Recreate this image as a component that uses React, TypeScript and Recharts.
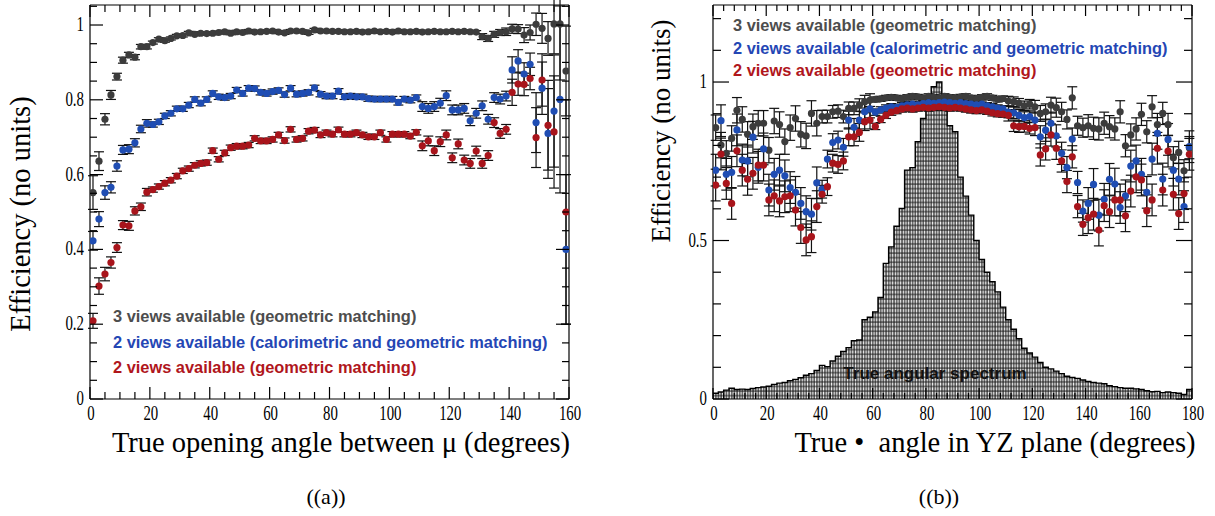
import { Area, ComposedChart, ErrorBar, ReferenceLine, Scatter, XAxis, YAxis } from 'recharts'

const SERIF = '"Liberation Serif", "Times New Roman", serif'
const SANS = '"Liberation Sans", Arial, sans-serif'

const GRAY = '#3c3c3c'
const BLUE = '#1f4db3'
const RED = '#a8141b'

// (a) true opening angle, 2 degree bins centred at 1, 3, ... 159
const A_BIN = 2
const A_GRAY = [
  0.552, 0.636, 0.748, 0.813, 0.862, 0.906, 0.920, 0.914, 0.942, 0.942,
  0.953, 0.962, 0.958, 0.964, 0.971, 0.972, 0.979, 0.975, 0.978, 0.977,
  0.978, 0.980, 0.982, 0.978, 0.982, 0.980, 0.984, 0.981, 0.982, 0.983,
  0.984, 0.981, 0.979, 0.984, 0.984, 0.983, 0.979, 0.987, 0.984, 0.984,
  0.983, 0.983, 0.982, 0.982, 0.983, 0.981, 0.982, 0.984, 0.982, 0.983,
  0.981, 0.984, 0.982, 0.982, 0.983, 0.981, 0.982, 0.983, 0.982, 0.982,
  0.983, 0.982, 0.983, 0.982, 0.981, 0.969, 0.964, 0.975, 0.980, 0.982,
  0.990, 0.989, 0.973, 0.980, 1.002, 0.991, 0.964, 1.003, 1.003, 0.877,
]
const A_BLUE = [
  0.423, 0.481, 0.552, 0.566, 0.623, 0.666, 0.668, 0.685, 0.722, 0.737,
  0.734, 0.741, 0.757, 0.764, 0.776, 0.776, 0.786, 0.801, 0.791, 0.801,
  0.817, 0.808, 0.806, 0.810, 0.826, 0.817, 0.831, 0.830, 0.820, 0.817,
  0.822, 0.825, 0.814, 0.831, 0.815, 0.817, 0.820, 0.832, 0.815, 0.810,
  0.810, 0.823, 0.808, 0.810, 0.808, 0.808, 0.803, 0.802, 0.802, 0.802,
  0.802, 0.793, 0.802, 0.799, 0.806, 0.782, 0.777, 0.782, 0.791, 0.811,
  0.773, 0.773, 0.777, 0.744, 0.764, 0.784, 0.748, 0.806, 0.802, 0.810,
  0.880, 0.904, 0.869, 0.895, 0.739, 0.831, 0.710, 0.770, 0.801, 0.400,
]
const A_RED = [
  0.209, 0.302, 0.334, 0.365, 0.405, 0.465, 0.463, 0.503, 0.514, 0.553,
  0.560, 0.568, 0.577, 0.585, 0.596, 0.610, 0.616, 0.625, 0.630, 0.632,
  0.664, 0.641, 0.658, 0.672, 0.676, 0.676, 0.679, 0.697, 0.690, 0.690,
  0.694, 0.706, 0.691, 0.721, 0.694, 0.697, 0.716, 0.719, 0.706, 0.712,
  0.708, 0.720, 0.708, 0.708, 0.712, 0.706, 0.701, 0.701, 0.712, 0.694,
  0.708, 0.708, 0.708, 0.703, 0.713, 0.677, 0.690, 0.664, 0.688, 0.706,
  0.645, 0.682, 0.639, 0.630, 0.663, 0.630, 0.651, 0.739, 0.710, 0.721,
  0.820, 0.842, 0.841, 0.857, 0.699, 0.853, 0.732, 0.714, null, 0.500,
]
const A_GRAY_ERR = [
  0.045, 0.025, 0.015, 0.012, 0.009, 0.008, 0.007, 0.007, 0.006, 0.006,
  0.004, 0.004, 0.004, 0.004, 0.004, 0.004, 0.004, 0.004, 0.004, 0.004,
  0.004, 0.004, 0.004, 0.004, 0.004, 0.004, 0.004, 0.004, 0.004, 0.004,
  0.004, 0.004, 0.004, 0.004, 0.004, 0.004, 0.004, 0.004, 0.004, 0.004,
  0.004, 0.004, 0.004, 0.004, 0.004, 0.004, 0.004, 0.004, 0.004, 0.004,
  0.004, 0.004, 0.004, 0.004, 0.004, 0.004, 0.004, 0.004, 0.004, 0.004,
  0.004, 0.004, 0.004, 0.004, 0.004, 0.008, 0.008, 0.008, 0.008, 0.010,
  0.012, 0.012, 0.020, 0.020, 0.030, 0.040, 0.045, 0.080, 0.150, 0.120,
]
const A_BLUE_ERR = [
  0.025, 0.020, 0.018, 0.015, 0.014, 0.012, 0.012, 0.011, 0.010, 0.010,
  0.007, 0.007, 0.007, 0.007, 0.007, 0.007, 0.007, 0.007, 0.007, 0.007,
  0.007, 0.007, 0.007, 0.007, 0.007, 0.007, 0.007, 0.007, 0.007, 0.007,
  0.007, 0.007, 0.007, 0.007, 0.007, 0.007, 0.007, 0.007, 0.007, 0.007,
  0.007, 0.007, 0.007, 0.007, 0.007, 0.007, 0.007, 0.007, 0.007, 0.007,
  0.007, 0.007, 0.007, 0.007, 0.007, 0.013, 0.013, 0.013, 0.013, 0.013,
  0.013, 0.013, 0.013, 0.013, 0.013, 0.013, 0.013, 0.013, 0.013, 0.013,
  0.035, 0.030, 0.030, 0.030, 0.080, 0.070, 0.120, 0.150, 0.250, 0.200,
]
const A_RED_ERR = [
  0.020, 0.022, 0.018, 0.015, 0.013, 0.012, 0.012, 0.011, 0.010, 0.010,
  0.007, 0.007, 0.007, 0.007, 0.007, 0.007, 0.007, 0.007, 0.007, 0.007,
  0.007, 0.007, 0.007, 0.007, 0.007, 0.007, 0.007, 0.007, 0.007, 0.007,
  0.007, 0.007, 0.007, 0.007, 0.007, 0.007, 0.007, 0.007, 0.007, 0.007,
  0.007, 0.007, 0.007, 0.007, 0.007, 0.007, 0.007, 0.007, 0.007, 0.007,
  0.007, 0.007, 0.007, 0.007, 0.007, 0.013, 0.013, 0.013, 0.013, 0.013,
  0.013, 0.013, 0.013, 0.013, 0.013, 0.013, 0.013, 0.013, 0.013, 0.013,
  0.035, 0.030, 0.030, 0.030, 0.080, 0.070, 0.120, 0.150, 0.000, 0.300,
]
const A_X_MAJOR = [0, 20, 40, 60, 80, 100, 120, 140, 160]
const A_Y_MAJOR = [0, 0.2, 0.4, 0.6, 0.8, 1]

// (b) true angle in YZ plane, 2 degree bins centred at 1, 3, ... 179
const B_BIN = 2
const B_GRAY = [
  0.856, 0.801, 0.775, 0.822, 0.911, 0.882, 0.835, 0.859, 0.870, 0.870,
  0.785, 0.877, 0.866, 0.812, 0.856, 0.885, 0.835, 0.830, 0.901, 0.870,
  0.891, 0.891, 0.906, 0.908, 0.891, 0.917, 0.917, 0.927, 0.938, 0.943,
  0.945, 0.947, 0.950, 0.952, 0.950, 0.948, 0.952, 0.955, 0.953, 0.950,
  0.955, 0.952, 0.950, 0.955, 0.952, 0.950, 0.953, 0.955, 0.950, 0.948,
  0.952, 0.955, 0.950, 0.945, 0.948, 0.940, 0.938, 0.933, 0.925, 0.930,
  0.922, 0.901, 0.906, 0.927, 0.919, 0.906, 0.882, 0.950, 0.862, 0.856,
  0.862, 0.854, 0.852, 0.870, 0.859, 0.852, 0.906, 0.799, 0.833, 0.852,
  0.898, 0.843, 0.922, 0.866, 0.901, 0.866, 0.761, 0.778, 0.720, 0.793,
]
const B_BLUE = [
  0.722, 0.878, 0.709, 0.715, 0.849, 0.754, 0.751, 0.826, 0.731, 0.789,
  0.659, 0.709, 0.722, 0.704, 0.667, 0.652, 0.617, 0.591, 0.583, 0.682,
  0.662, 0.757, 0.809, 0.817, 0.794, 0.880, 0.857, 0.880, 0.906, 0.915,
  0.905, 0.912, 0.918, 0.922, 0.920, 0.925, 0.928, 0.930, 0.928, 0.932,
  0.935, 0.933, 0.935, 0.937, 0.935, 0.933, 0.935, 0.932, 0.930, 0.928,
  0.930, 0.925, 0.922, 0.918, 0.915, 0.905, 0.903, 0.895, 0.888, 0.891,
  0.880, 0.827, 0.848, 0.870, 0.830, 0.775, 0.730, 0.820, 0.683, 0.593,
  0.617, 0.677, 0.580, 0.630, 0.693, 0.678, 0.604, 0.641, 0.735, 0.751,
  0.709, 0.652, 0.757, 0.838, 0.694, 0.819, 0.722, 0.694, 0.607, 0.796,
]
const B_RED = [
  0.675, 0.773, 0.680, 0.617, 0.783, 0.722, 0.693, 0.712, 0.738, 0.738,
  0.628, 0.641, 0.625, 0.638, 0.641, 0.596, 0.541, 0.502, 0.512, 0.607,
  0.646, 0.670, 0.744, 0.740, 0.751, 0.827, 0.827, 0.841, 0.875, 0.880,
  0.860, 0.882, 0.895, 0.905, 0.910, 0.915, 0.918, 0.915, 0.918, 0.920,
  0.918, 0.920, 0.922, 0.920, 0.918, 0.920, 0.918, 0.915, 0.912, 0.910,
  0.912, 0.908, 0.903, 0.900, 0.899, 0.895, 0.862, 0.859, 0.860, 0.854,
  0.856, 0.770, 0.789, 0.833, 0.791, 0.751, 0.686, 0.764, 0.607, 0.551,
  0.572, 0.583, 0.533, 0.610, 0.591, 0.628, 0.628, 0.578, 0.656, 0.701,
  0.691, 0.594, 0.628, 0.791, 0.659, 0.782, 0.646, 0.585, 0.648, 0.772,
]
const B_GRAY_ERR = [
  0.040, 0.040, 0.040, 0.040, 0.040, 0.040, 0.040, 0.040, 0.040, 0.040,
  0.040, 0.040, 0.040, 0.040, 0.040, 0.040, 0.040, 0.040, 0.040, 0.040,
  0.020, 0.020, 0.020, 0.020, 0.020, 0.020, 0.020, 0.020, 0.020, 0.020,
  0.008, 0.008, 0.008, 0.008, 0.008, 0.008, 0.008, 0.008, 0.008, 0.008,
  0.008, 0.008, 0.008, 0.008, 0.008, 0.008, 0.008, 0.008, 0.008, 0.008,
  0.008, 0.008, 0.008, 0.008, 0.008, 0.015, 0.015, 0.015, 0.015, 0.015,
  0.020, 0.025, 0.025, 0.025, 0.030, 0.030, 0.030, 0.035, 0.030, 0.030,
  0.035, 0.035, 0.035, 0.035, 0.035, 0.035, 0.035, 0.035, 0.035, 0.035,
  0.035, 0.035, 0.035, 0.035, 0.035, 0.035, 0.035, 0.035, 0.035, 0.035,
]
const B_COLOR_ERR = [
  0.050, 0.050, 0.050, 0.050, 0.050, 0.050, 0.050, 0.050, 0.050, 0.050,
  0.050, 0.050, 0.050, 0.050, 0.050, 0.050, 0.050, 0.050, 0.050, 0.050,
  0.028, 0.028, 0.028, 0.028, 0.028, 0.028, 0.028, 0.028, 0.028, 0.028,
  0.010, 0.010, 0.010, 0.010, 0.010, 0.010, 0.010, 0.010, 0.010, 0.010,
  0.010, 0.010, 0.010, 0.010, 0.010, 0.010, 0.010, 0.010, 0.010, 0.010,
  0.010, 0.010, 0.010, 0.010, 0.010, 0.018, 0.018, 0.018, 0.018, 0.018,
  0.025, 0.035, 0.035, 0.035, 0.035, 0.035, 0.035, 0.035, 0.035, 0.035,
  0.050, 0.050, 0.050, 0.050, 0.050, 0.050, 0.050, 0.050, 0.050, 0.050,
  0.050, 0.050, 0.050, 0.050, 0.050, 0.050, 0.050, 0.050, 0.050, 0.050,
]
// true angular spectrum, scaled to peak 1, bins [0,2), [2,4) ... [178,180)
const B_SPECTRUM = [
  0.018, 0.022, 0.028, 0.034, 0.030, 0.031, 0.030, 0.033, 0.036, 0.038,
  0.040, 0.046, 0.050, 0.052, 0.058, 0.062, 0.067, 0.075, 0.080, 0.090,
  0.106, 0.102, 0.120, 0.135, 0.150, 0.162, 0.184, 0.186, 0.250, 0.258,
  0.275, 0.320, 0.428, 0.480, 0.545, 0.601, 0.722, 0.730, 0.812, 0.885,
  0.955, 0.985, 1.000, 0.960, 0.862, 0.843, 0.700, 0.640, 0.580, 0.500,
  0.440, 0.400, 0.370, 0.338, 0.290, 0.250, 0.220, 0.190, 0.160, 0.145,
  0.132, 0.115, 0.100, 0.095, 0.088, 0.080, 0.072, 0.068, 0.065, 0.060,
  0.055, 0.052, 0.050, 0.048, 0.042, 0.039, 0.036, 0.034, 0.034, 0.032,
  0.030, 0.026, 0.023, 0.024, 0.020, 0.022, 0.020, 0.018, 0.014, 0.030,
]
const B_X_MAJOR = [0, 20, 40, 60, 80, 100, 120, 140, 160, 180]
const B_Y_MAJOR = [0, 0.5, 1]

const PLOT_W = 479
const PLOT_H = 394

function points(vals: (number | null)[], errs: number[], bin: number) {
  const out: { x: number; y: number; e: number }[] = []
  vals.forEach((y, i) => {
    if (y !== null) out.push({ x: bin * i + bin / 2, y, e: errs[i] })
  })
  return out
}

function withMinor(major: number[], parts: number, max: number) {
  const step = (major[1] - major[0]) / parts
  const out: number[] = []
  for (let v = 0; v <= max + 1e-9; v += step) out.push(Math.round(v * 1000) / 1000)
  return out
}

function isMajor(v: number, major: number[]) {
  return major.some((m) => Math.abs(m - v) < 1e-6)
}

function labelWidth(s: string) {
  return s.split('').reduce((w, c) => w + (c === '.' ? 3.8 : 7.4), 0)
}

function makeXTick(major: number[], majorLen: number, minorLen: number) {
  return function XTick(props: any) {
    const { x, y, payload } = props
    const v = payload.value
    const big = isMajor(v, major)
    const len = big ? majorLen : minorLen
    const s = String(v)
    return (
      <g>
        <line x1={x} x2={x} y1={y} y2={y - len} stroke="#000" strokeWidth={1.2} />
        <line x1={x} x2={x} y1={y - PLOT_H} y2={y - PLOT_H + len} stroke="#000" strokeWidth={1.2} />
        {big && (
          <text x={x + 1} y={y + 21} textAnchor="middle" fontFamily={SERIF} fontSize={22} fill="#000"
            textLength={labelWidth(s)} lengthAdjust="spacingAndGlyphs">{s}</text>
        )}
      </g>
    )
  }
}

function makeYTick(major: number[], majorLen: number, minorLen: number) {
  return function YTick(props: any) {
    const { x, y, payload } = props
    const v = payload.value
    const big = isMajor(v, major)
    const len = big ? majorLen : minorLen
    const s = String(Math.round(v * 100) / 100)
    return (
      <g>
        <line x1={x} x2={x + len} y1={y} y2={y} stroke="#000" strokeWidth={1.2} />
        <line x1={x + PLOT_W} x2={x + PLOT_W - len} y1={y} y2={y} stroke="#000" strokeWidth={1.2} />
        {big && (
          <text x={x - 6} y={y + 6} textAnchor="end" fontFamily={SERIF} fontSize={22} fill="#000"
            textLength={labelWidth(s)} lengthAdjust="spacingAndGlyphs">{s}</text>
        )}
      </g>
    )
  }
}

const dot = (color: string) => (p: any) => <circle cx={p.cx} cy={p.cy} r={3.6} fill={color} />

const A_XMAX = 160
const A_YMAX = 1.0535
const B_XMAX = 180
const B_YMAX = 1.243

function PanelA() {
  const gray = points(A_GRAY, A_GRAY_ERR, A_BIN)
  const blue = points(A_BLUE, A_BLUE_ERR, A_BIN)
  const red = points(A_RED, A_RED_ERR, A_BIN)
  return (
    <ComposedChart width={600} height={470} margin={{ top: 5, right: 31, bottom: 31, left: 0 }}>
      <XAxis type="number" dataKey="x" domain={[0, A_XMAX]} allowDataOverflow ticks={withMinor(A_X_MAJOR, 4, A_XMAX)}
        interval={0} tickSize={0} tickMargin={0} tickLine={false} height={40}
        axisLine={{ stroke: '#000', strokeWidth: 1.2 }} tick={makeXTick(A_X_MAJOR, 12, 7)} />
      <YAxis type="number" domain={[0, A_YMAX]} allowDataOverflow ticks={withMinor(A_Y_MAJOR, 4, A_YMAX)}
        interval={0} tickSize={0} tickMargin={0} tickLine={false} width={90}
        axisLine={{ stroke: '#000', strokeWidth: 1.2 }} tick={makeYTick(A_Y_MAJOR, 13, 7)} />
      <ReferenceLine x={A_XMAX} stroke="#000" strokeWidth={1.2} />
      <ReferenceLine y={A_YMAX} stroke="#000" strokeWidth={1.2} />
      <Scatter data={gray} dataKey="y" shape={dot(GRAY)} isAnimationActive={false}>
        <ErrorBar dataKey="e" direction="y" width={5} stroke="#111" strokeWidth={1.2} />
      </Scatter>
      <Scatter data={blue} dataKey="y" shape={dot(BLUE)} isAnimationActive={false}>
        <ErrorBar dataKey="e" direction="y" width={5} stroke="#111" strokeWidth={1.2} />
      </Scatter>
      <Scatter data={red} dataKey="y" shape={dot(RED)} isAnimationActive={false}>
        <ErrorBar dataKey="e" direction="y" width={5} stroke="#111" strokeWidth={1.2} />
      </Scatter>
    </ComposedChart>
  )
}

function PanelB() {
  const gray = points(B_GRAY, B_GRAY_ERR, B_BIN)
  const blue = points(B_BLUE, B_COLOR_ERR, B_BIN)
  const red = points(B_RED, B_COLOR_ERR, B_BIN)
  const spectrum = B_SPECTRUM.map((h, i) => ({ x: i * B_BIN, h }))
  spectrum.push({ x: B_XMAX, h: B_SPECTRUM[B_SPECTRUM.length - 1] })
  return (
    <ComposedChart width={600} height={470} data={spectrum} margin={{ top: 5, right: 28, bottom: 31, left: 0 }}>
      <defs>
        <pattern id="hatch" patternUnits="userSpaceOnUse" width={2.66} height={4.6}>
          <rect width={2.66} height={4.6} fill="#151515" />
          <rect x={0.6} y={0.5} width={1.55} height={3.7} fill="#f4f4f4" />
        </pattern>
      </defs>
      <XAxis type="number" dataKey="x" domain={[0, B_XMAX]} allowDataOverflow ticks={withMinor(B_X_MAJOR, 5, B_XMAX)}
        interval={0} tickSize={0} tickMargin={0} tickLine={false} height={40}
        axisLine={{ stroke: '#000', strokeWidth: 1.2 }} tick={makeXTick(B_X_MAJOR, 11, 6)} />
      <YAxis type="number" domain={[0, B_YMAX]} allowDataOverflow ticks={withMinor(B_Y_MAJOR, 5, B_YMAX)}
        interval={0} tickSize={0} tickMargin={0} tickLine={false} width={93}
        axisLine={{ stroke: '#000', strokeWidth: 1.2 }} tick={makeYTick(B_Y_MAJOR, 16, 8)} />
      <Area type="stepAfter" dataKey="h" stroke="#000" strokeWidth={1.4} fill="url(#hatch)" fillOpacity={1}
        dot={false} activeDot={false} isAnimationActive={false} />
      <ReferenceLine x={B_XMAX} stroke="#000" strokeWidth={1.2} />
      <ReferenceLine y={B_YMAX} stroke="#000" strokeWidth={1.2} />
      <Scatter data={gray} dataKey="y" shape={dot(GRAY)} isAnimationActive={false}>
        <ErrorBar dataKey="e" direction="y" width={5} stroke="#111" strokeWidth={1.2} />
      </Scatter>
      <Scatter data={blue} dataKey="y" shape={dot(BLUE)} isAnimationActive={false}>
        <ErrorBar dataKey="e" direction="y" width={5} stroke="#111" strokeWidth={1.2} />
      </Scatter>
      <Scatter data={red} dataKey="y" shape={dot(RED)} isAnimationActive={false}>
        <ErrorBar dataKey="e" direction="y" width={5} stroke="#111" strokeWidth={1.2} />
      </Scatter>
    </ComposedChart>
  )
}

const abs = (left: number, top: number, extra: React.CSSProperties = {}): React.CSSProperties => ({
  position: 'absolute', left, top, whiteSpace: 'pre', lineHeight: 1, ...extra,
})

const legendStyle = (color: string): React.CSSProperties => ({
  fontFamily: SANS, fontWeight: 'bold', fontSize: 16.4, color, transform: 'translateY(-50%)',
})

export default function App() {
  const centered: React.CSSProperties = { transform: 'translate(-50%, -50%)' }
  const vertical: React.CSSProperties = { transform: 'translate(-50%, -50%) rotate(-90deg)' }
  return (
    <div style={{ position: 'absolute', left: 0, top: 0, width: 1215, height: 516, background: '#fff', overflow: 'hidden' }}>
      <div style={{ position: 'absolute', left: 0, top: 0 }}>
        <PanelA />
      </div>
      <div style={{ position: 'absolute', left: 620, top: 0 }}>
        <PanelB />
      </div>

      <div style={abs(21, 214, { ...vertical, fontFamily: SERIF, fontSize: 28.5 })}>Efficiency (no units)</div>
      <div style={abs(341, 443, { ...centered, fontFamily: SERIF, fontSize: 28.5 })}>True opening angle between μ (degrees)</div>
      <div style={abs(326, 497, { ...centered, fontFamily: SERIF, fontSize: 22 })}>((a))</div>

      <div style={abs(661, 131, { ...vertical, fontFamily: SERIF, fontSize: 27 })}>Efficiency (no units)</div>
      <div style={abs(995, 443, { ...centered, fontFamily: SERIF, fontSize: 28.5 })}>True •  angle in YZ plane (degrees)</div>
      <div style={abs(939, 497, { ...centered, fontFamily: SERIF, fontSize: 22 })}>((b))</div>

      <div style={abs(113, 316, legendStyle('#4d4d4d'))}>3 views available (geometric matching)</div>
      <div style={abs(113, 342, legendStyle('#2446b4'))}>2 views available (calorimetric and geometric matching)</div>
      <div style={abs(113, 367, legendStyle('#b0161c'))}>2 views available (geometric matching)</div>

      <div style={abs(733, 25, legendStyle('#4d4d4d'))}>3 views available (geometric matching)</div>
      <div style={abs(733, 48, legendStyle('#2446b4'))}>2 views available (calorimetric and geometric matching)</div>
      <div style={abs(733, 70, legendStyle('#b0161c'))}>2 views available (geometric matching)</div>

      <div style={abs(935, 373, { ...centered, fontFamily: SANS, fontWeight: 'bold', fontSize: 17, color: '#111' })}>True angular spectrum</div>
    </div>
  )
}
